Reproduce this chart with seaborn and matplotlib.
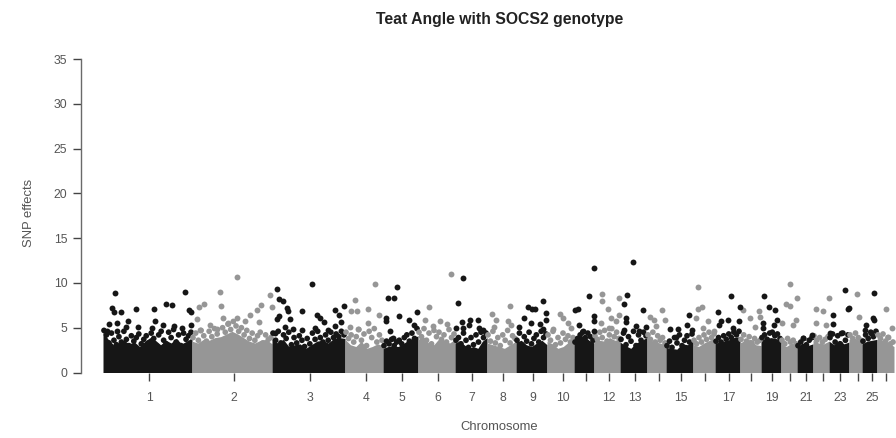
import numpy as np
import pandas as pd
import seaborn as sns
import matplotlib.pyplot as plt

# chromosome limits on the genome position scale, one more than chromosomes
chrom_bounds = [0, 89, 169, 242, 280, 315, 352, 384, 413, 444, 471, 491, 517, 544, 563,
                590, 612, 637, 658, 678, 694, 710, 726, 746, 759, 774, 791]
tick_pos = [46, 131, 207, 263, 299, 335, 369, 400, 430, 460, 483, 506, 532, 556, 578,
            602, 626, 648, 669, 687, 703, 720, 737, 755, 769, 783]
tick_labels = ['1', '2', '3', '4', '5', '6', '7', '8', '9', '10', '', '12', '13', '',
               '15', '', '17', '', '19', '', '21', '', '23', '', '25', '']

# top of the solid cloud, read along each chromosome
cloud_tops = [
    [4.8, 4.0, 3.4, 3.6, 3.9, 3.5, 3.7, 3.2, 3.8, 4.2, 3.9, 3.4, 3.9, 3.6, 4.1, 3.5, 3.8, 4.2],
    [3.8, 3.6, 4.0, 3.9, 4.2, 4.3, 4.6, 4.9, 4.6, 4.2, 3.8, 3.6, 3.9, 4.0, 3.5],
    [4.2, 3.6, 4.0, 3.2, 3.4, 3.5, 3.0, 3.4, 3.8, 3.9, 3.6, 4.1, 4.2, 4.1],
    [4.0, 3.4, 3.2, 3.8, 3.0, 3.2, 3.5, 3.3],
    [3.0, 3.2, 3.3, 3.2, 3.5, 3.9, 4.1, 4.4],
    [4.0, 4.3, 3.6, 3.4, 4.1, 3.8, 3.6, 4.0],
    [3.6, 3.8, 3.4, 3.0, 3.2, 3.0, 3.8, 4.2],
    [3.6, 3.4, 3.2, 3.0, 3.4, 3.8],
    [3.7, 3.9, 3.4, 3.2, 3.6, 3.9, 3.4],
    [3.8, 3.5, 3.0, 3.2, 3.7, 3.5],
    [3.6, 4.3, 4.4, 3.9, 3.6],
    [3.8, 3.9, 3.8, 4.2, 3.9, 4.0],
    [3.7, 3.3, 3.0, 3.6, 3.9, 4.2],
    [4.1, 3.8, 3.6, 3.4],
    [3.1, 3.0, 2.9, 3.5, 3.4, 3.9],
    [3.4, 3.2, 3.6, 3.9, 4.1],
    [3.6, 3.7, 3.9, 4.2, 4.3],
    [3.6, 3.9, 4.0, 3.4, 3.3],
    [3.9, 4.1, 4.2, 4.1, 3.8],
    [3.5, 3.2, 3.6, 3.3],
    [3.1, 3.6, 3.3, 3.5],
    [3.9, 3.6, 3.5, 3.8],
    [3.8, 3.4, 3.9, 3.5, 3.7],
    [4.0, 4.1, 3.7],
    [3.5, 3.8, 3.9, 4.0],
    [4.0, 3.9, 3.6, 3.2],
]

# ragged SNPs on the upper edge of the cloud, left to right in each chromosome
fringe = [
    [4.7, 4.2, 3.3, 4.4, 3.6, 3.1, 4.0, 3.4, 4.6, 3.7, 3.0, 4.1, 3.5, 3.9, 4.3, 3.2, 3.7, 4.1,
     3.3, 4.4, 3.8, 3.0, 4.2, 4.6, 3.6, 3.2, 4.5, 3.9, 4.8, 3.4, 4.2, 3.0, 4.4, 3.7, 4.1, 4.5],
    [3.9, 4.4, 3.6, 4.7, 4.1, 3.5, 4.6, 4.0, 4.9, 4.3, 3.4, 5.0, 4.5, 5.4, 4.8, 5.7, 5.2, 4.6,
     5.0, 4.2, 4.7, 3.8, 4.4, 3.6, 4.1, 4.5, 3.3, 4.2, 3.7, 3.9],
    [4.4, 3.6, 4.6, 3.3, 4.2, 3.8, 4.5, 3.1, 3.9, 3.3, 4.1, 3.6, 2.9, 3.8, 3.2, 4.4, 3.7, 4.6,
     3.9, 3.4, 4.2, 3.6, 4.5, 3.9, 4.3, 4.0, 4.6, 4.2],
    [4.5, 3.8, 4.2, 3.4, 4.0, 4.8, 3.6, 4.3, 3.0, 4.6, 3.9, 4.9, 3.4, 4.2, 3.6],
    [3.0, 3.5, 3.2, 3.7, 3.0, 3.4, 3.6, 3.2, 3.9, 4.2, 3.5, 4.4, 3.8, 4.9],
    [4.5, 4.0, 4.9, 3.6, 4.4, 3.2, 4.7, 4.0, 4.5, 3.7, 4.2, 3.4, 4.8, 3.9, 4.3],
    [3.6, 3.9, 3.2, 4.4, 3.6, 2.8, 3.9, 3.1, 4.2, 3.4, 4.5, 3.9, 4.4],
    [4.2, 3.5, 4.6, 3.3, 3.9, 3.0, 4.2, 3.6, 4.7, 3.3, 4.1, 3.8],
    [3.6, 4.4, 3.1, 4.0, 3.5, 4.5, 3.2, 3.8, 4.2, 3.4, 4.6, 3.9, 4.3],
    [4.2, 3.6, 4.6, 3.1, 3.9, 3.3, 4.4, 3.7, 4.1, 3.4, 3.9],
    [3.4, 3.8, 4.2, 4.5, 3.9, 4.4, 4.0, 3.6],
    [4.1, 3.7, 4.5, 3.9, 4.7, 3.5, 4.2, 4.9, 4.0, 4.5, 3.8],
    [3.7, 4.4, 3.1, 4.0, 3.5, 4.6, 3.0, 4.2, 3.6, 4.5, 4.1],
    [4.2, 3.7, 4.5, 3.4, 4.1, 3.6, 3.9, 3.3],
    [3.0, 3.5, 2.8, 3.9, 3.3, 4.2, 3.0, 3.6, 4.1, 3.4, 4.3],
    [3.6, 3.2, 3.9, 3.4, 4.2, 3.7, 4.5, 3.9, 4.3],
    [3.5, 3.9, 3.4, 4.1, 3.7, 4.3, 3.9, 4.5, 4.2, 4.6],
    [3.7, 4.2, 3.5, 4.0, 3.3, 3.8, 3.4, 3.6],
    [3.9, 4.2, 3.7, 4.4, 4.5, 4.1, 4.3, 3.8],
    [3.6, 3.2, 3.8, 3.4, 3.6, 3.2],
    [3.0, 3.4, 3.8, 3.1, 3.6, 3.9],
    [4.1, 3.6, 3.9, 3.4, 3.7, 4.0],
    [3.9, 4.3, 3.4, 4.1, 3.2, 4.4, 3.6, 4.2],
    [4.2, 3.8, 4.4, 3.9, 3.6],
    [3.5, 4.2, 3.8, 4.5, 4.0, 4.6],
    [4.2, 3.8, 4.3, 3.5, 3.9, 3.2, 3.4],
]

# separate SNPs above the cloud
odd_pos = [12.3, 9, 10.7, 17.7, 33, 51.3, 62.7, 69.3, 82, 86.3, 88, 87.7, 5.7, 14.3, 25.3, 23, 35.3,
           52, 48.7, 60.3, 71, 78.7, 13.7, 3.7,
           174.3, 175.7, 180.3, 184.3, 185.3, 199, 209.3, 213.7, 217, 221, 232, 236, 241, 237.7,
           232, 175.7, 173.7, 187, 182, 190.3, 198.7, 212, 225.3, 172,
           294, 285.3, 291, 283, 283, 295.7, 306.3, 314, 311, 287, 289.7,
           359.7, 354.7, 359, 367, 374.7, 353, 359.7, 366.3, 376.3, 379.7,
           440.3, 424.7, 429, 432.3, 421.3, 443, 443, 415.7, 428, 437, 439.7,
           486.3, 474.7, 472.3, 491, 490.7, 476.3, 491, 491, 480,
           529.7, 523.7, 520.7, 540.3, 523, 523, 533, 543, 521.3, 536,
           586.3, 583.7, 567, 574.7, 589, 573,
           627.7, 614.7, 636.5, 624.7, 618, 615.7, 636.3, 629.7,
           660.7, 666.3, 672.3, 673.7, 660.3, 671.3, 659.7,
           709, 700.3,
           742.3, 729.7, 729.7, 745.5, 744.7, 727, 738,
           771.3, 769.7, 771, 763, 768, 762]
odd_val = [8.9, 7.2, 6.8, 6.8, 7.1, 7.1, 7.7, 7.5, 9.0, 7.0, 6.8, 5.3, 5.4, 5.5, 5.7, 5.1, 5.1,
           5.7, 5.0, 5.3, 5.2, 5.0, 4.6, 4.6,
           9.3, 8.2, 8.0, 7.2, 6.9, 6.9, 9.9, 6.4, 6.1, 5.6, 7.0, 6.4, 7.4, 5.6,
           5.2, 6.3, 6.0, 6.0, 5.1, 4.9, 4.8, 5.0, 4.7, 4.4,
           9.6, 8.3, 8.3, 6.1, 5.8, 6.3, 5.9, 6.8, 5.3, 4.6, 3.9,
           10.5, 7.8, 5.6, 5.9, 5.9, 5.0, 5.0, 5.3, 5.0, 4.7,
           8.0, 7.3, 7.1, 7.1, 6.1, 6.6, 5.9, 5.1, 5.5, 5.4, 4.9,
           8.5, 7.1, 7.0, 6.3, 5.8, 5.3, 11.7, 4.6, 4.6,
           12.3, 8.6, 7.6, 7.0, 6.1, 5.6, 5.2, 5.1, 4.7, 4.6,
           6.4, 5.3, 4.9, 4.9, 4.7, 4.0,
           8.5, 6.8, 7.3, 5.9, 5.7, 5.3, 5.7, 5.0,
           8.5, 7.3, 7.0, 5.9, 5.5, 5.3, 5.0,
           4.2, 3.9,
           9.2, 6.4, 5.4, 7.2, 7.1, 4.4, 4.4,
           8.9, 6.1, 5.9, 5.3, 4.4, 4.7]
even_pos = [133.7, 117, 117.7, 101, 96, 93.7, 167, 168.7, 158, 153.7, 147, 156.3, 120.3, 134.3, 97,
            107, 113.7, 125.3, 142,
            271.7, 252.3, 248, 254.3, 265.3, 275.7, 247, 265.3, 255.3,
            326.3, 348, 322, 337, 344, 330,
            407, 388.7, 393, 404.7, 391.3, 408,
            457, 459.7, 464.7, 449.7, 468,
            498.7, 498.7, 516.3, 504.7, 508, 516.3, 513, 505.7, 498,
            559, 547, 551.3, 562.3, 553,
            595, 599, 594.7, 593, 604.7, 599.7, 611,
            655.7, 639.7, 647, 657, 652,
            687, 683, 687, 693, 689.7, 679, 694,
            713, 719.7, 713, 723, 725.7,
            754.3, 756.3,
            783, 789, 785]
even_val = [10.7, 9.0, 7.4, 7.7, 7.3, 6.0, 8.6, 7.3, 7.5, 7.0, 6.4, 5.6, 6.1, 6.1, 4.8,
            5.3, 4.9, 5.5, 5.8,
            9.9, 8.1, 6.9, 6.9, 7.1, 6.4, 5.1, 5.5, 4.9,
            7.3, 11.0, 5.9, 5.8, 5.4, 5.2,
            7.4, 6.5, 5.9, 5.8, 5.1, 5.3,
            6.5, 6.1, 5.5, 4.9, 5.0,
            8.8, 8.0, 8.3, 7.1, 6.1, 6.4, 5.7, 5.0, 5.5,
            7.0, 6.2, 5.9, 5.9, 5.2,
            9.5, 7.3, 7.1, 6.1, 5.8, 5.0, 4.6,
            6.9, 7.0, 6.1, 6.2, 5.1,
            9.9, 7.6, 7.4, 5.9, 5.3, 5.5, 8.3,
            7.1, 6.9, 5.5, 5.3, 8.3,
            8.8, 6.2,
            7.1, 5.0, 4.0]

BLACK = '#161616'
GREY = '#969696'

sns.set_theme(style='white')
plt.rcParams['font.family'] = ['Liberation Sans', 'DejaVu Sans']

W, H = 896, 438
fig = plt.figure(figsize=(W / 100, H / 100), dpi=100)
ax = fig.add_axes([81 / W, 1 - 372.5 / H, (W - 81) / W, (372.5 - 59) / H])

rows = []
for i, (tops, edge) in enumerate(zip(cloud_tops, fringe)):
    col = BLACK if i % 2 == 0 else GREY
    x = np.linspace(chrom_bounds[i], chrom_bounds[i + 1], len(tops))
    ax.fill_between(x, 0, np.array(tops) - 0.3, color=col, lw=0, zorder=2)
    xe = np.linspace(chrom_bounds[i] + 1, chrom_bounds[i + 1] - 1, len(edge))
    for a, b in zip(xe, edge):
        rows.append((a, b, col))
cloud = pd.DataFrame(rows, columns=['pos', 'effect', 'col'])
sns.scatterplot(data=cloud, x='pos', y='effect', hue='col', palette={BLACK: BLACK, GREY: GREY},
                s=17, linewidth=0, legend=False, ax=ax, zorder=3)

sns.scatterplot(x=even_pos, y=even_val, color=GREY, s=18, linewidth=0, ax=ax, zorder=4)
sns.scatterplot(x=odd_pos, y=odd_val, color=BLACK, s=18, linewidth=0, ax=ax, zorder=5)

ax.set_xlim(-22, 793)
ax.set_ylim(0, 35)
sns.despine(ax=ax, top=True, right=True, bottom=True)
ax.spines['left'].set_color('#6a6a6a')
ax.spines['left'].set_linewidth(1)
ax.set_yticks(range(0, 36, 5))
ax.set_xticks(tick_pos)
ax.set_xticklabels(tick_labels)
ax.tick_params(axis='y', left=True, length=5.8, width=1, color='#444444', labelsize=8.8,
               labelcolor='#555555', pad=4)
ax.tick_params(axis='x', bottom=True, length=5.8, width=1, color='#444444', labelsize=8.8,
               labelcolor='#555555', pad=8)
ax.set_xlabel('')
ax.set_ylabel('')
ax.grid(False)

fig.text(499.5 / W, 1 - 19.5 / H, 'Teat Angle with SOCS2 genotype', ha='center', va='center',
         fontsize=11.3, fontweight='bold', color='#222222')
fig.text(499.5 / W, 1 - 427 / H, 'Chromosome', ha='center', va='center', fontsize=9.4, color='#555555')
fig.text(28.5 / W, 1 - 213 / H, 'SNP effects', ha='center', va='center', rotation=90,
         fontsize=9.4, color='#555555')

fig.savefig('out.png', dpi=100)
